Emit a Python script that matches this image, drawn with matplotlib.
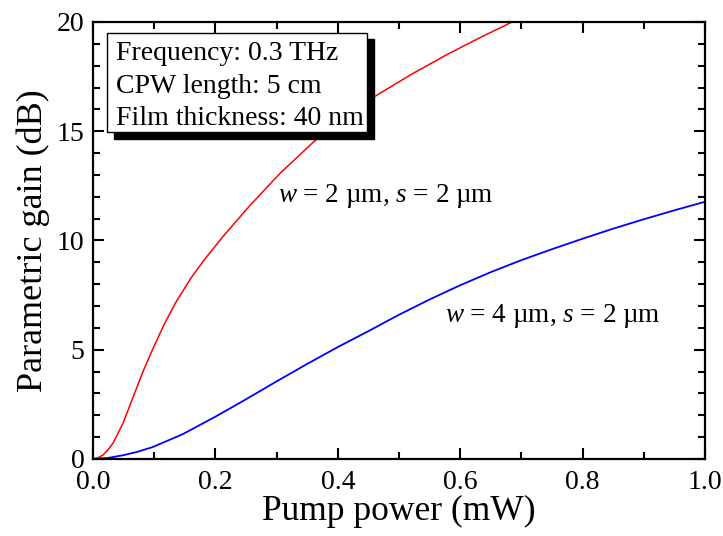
import matplotlib
matplotlib.use("Agg")
import matplotlib.pyplot as plt
from matplotlib.patches import Rectangle
from matplotlib.ticker import MultipleLocator

plt.rcParams['font.family'] = ['Liberation Serif', 'DejaVu Serif']
plt.rcParams['mathtext.fontset'] = 'custom'
plt.rcParams['mathtext.rm'] = 'Liberation Serif'
plt.rcParams['mathtext.it'] = 'Liberation Serif:italic'

# w = 2 um, s = 2 um
red_x = [0, 0.008, 0.0163, 0.0245, 0.0327, 0.049, 0.0654, 0.0817, 0.098, 0.117,
         0.136, 0.1607, 0.180, 0.213, 0.2565, 0.3056, 0.360, 0.41, 0.461, 0.52,
         0.578, 0.63, 0.685, 0.72]
red_y = [0, 0.05, 0.18, 0.42, 0.72, 1.63, 2.82, 4.0, 5.05, 6.2,
         7.2, 8.3, 9.05, 10.2, 11.6, 13.07, 14.5, 15.6, 16.6, 17.6,
         18.5, 19.25, 20.0, 20.5]

# w = 4 um, s = 2 um
blue_x = [0, 0.025, 0.049, 0.073, 0.098, 0.147, 0.199, 0.245, 0.30, 0.35,
          0.40, 0.45, 0.50, 0.55, 0.60, 0.65, 0.70, 0.75, 0.80, 0.85,
          0.90, 0.95, 1.0]
blue_y = [0, 0.05, 0.17, 0.33, 0.55, 1.14, 1.92, 2.65, 3.55, 4.35,
          5.12, 5.85, 6.6, 7.3, 7.95, 8.55, 9.1, 9.6, 10.08, 10.54,
          10.97, 11.38, 11.77]

info_lines = ["Frequency: 0.3 THz", "CPW length: 5 cm", "Film thickness: 40 nm"]

fig = plt.figure(figsize=(7.23, 5.36), dpi=100)
ax = fig.add_axes([0.1286, 0.1437, 0.8464, 0.8153])

ax.plot(red_x, red_y, color='#ff0000', lw=1.1)
ax.plot(blue_x, blue_y, color='#0000ff', lw=1.3)

ax.set_xlim(0, 1.0)
ax.set_ylim(0, 20)
ax.xaxis.set_major_locator(MultipleLocator(0.2))
ax.xaxis.set_minor_locator(MultipleLocator(0.1))
ax.yaxis.set_major_locator(MultipleLocator(5))
ax.yaxis.set_minor_locator(MultipleLocator(1))
ax.xaxis.set_major_formatter(plt.FuncFormatter(lambda v, p: f"{v:.1f}"))
ax.tick_params(which='both', direction='in', top=True, right=True,
               labelsize=20, width=1.5)
ax.tick_params(which='major', length=8)
ax.tick_params(which='minor', length=5)
ax.tick_params(axis='x', which='major', pad=8)
ax.tick_params(axis='y', which='major', pad=6)
for s in ax.spines.values():
    s.set_linewidth(1.6)

ax.set_xlabel("Pump power (mW)", fontsize=25.5, labelpad=0)
ax.set_ylabel("Parametric gain (dB)", fontsize=26, labelpad=5)

ax.text(0.302, 11.78, r"$w$ = 2 µm, $s$ = 2 µm", fontsize=19.5, va='baseline')
ax.text(0.575, 6.28, r"$w$ = 4 µm, $s$ = 2 µm", fontsize=19.5, va='baseline')

# info box with drop shadow
bx0, by0, bw, bh = 0.0229, 0.748, 0.4248, 0.227
ax.add_patch(Rectangle((bx0 + 0.012, by0 - 0.015), bw, bh, transform=ax.transAxes,
                       facecolor='black', edgecolor='black', zorder=4))
ax.add_patch(Rectangle((bx0, by0), bw, bh, transform=ax.transAxes,
                       facecolor='white', edgecolor='black', lw=1.0, zorder=5))
for i, line in enumerate(info_lines):
    ax.text(bx0 + 0.014, 0.913 - i * 0.0745, line, transform=ax.transAxes,
            fontsize=20, va='baseline', zorder=6)

fig.savefig("out.png", dpi=100)
